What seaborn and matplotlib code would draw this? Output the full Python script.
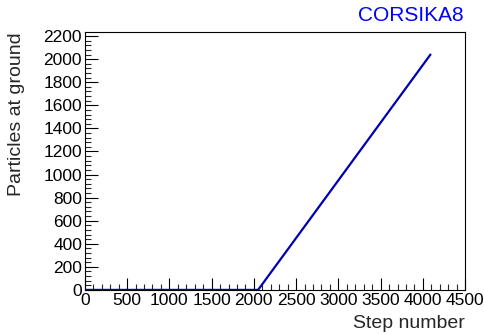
import matplotlib
matplotlib.use("Agg")
import matplotlib.pyplot as plt
import seaborn as sns
import pandas as pd
from matplotlib.ticker import MultipleLocator

steps = [0, 2050, 4090]
particles = [0, 0, 2040]
title = "CORSIKA8"

sns.set_theme(style="ticks")
plt.rcParams['font.family'] = ['Liberation Sans', 'DejaVu Sans']

df = pd.DataFrame({"step": steps, "particles": particles})

fig = plt.figure(figsize=(4.85, 3.34), dpi=100)
ax = fig.add_axes([0.175, 0.132, 0.784, 0.772])
sns.lineplot(data=df, x="step", y="particles", ax=ax, color="#0000b0", linewidth=1.6)

ax.set_xlim(0, 4500)
ax.set_ylim(0, 2235)
ax.xaxis.set_major_locator(MultipleLocator(500))
ax.xaxis.set_minor_locator(MultipleLocator(100))
ax.yaxis.set_major_locator(MultipleLocator(200))
ax.yaxis.set_minor_locator(MultipleLocator(40))
ax.tick_params(axis="both", which="major", direction="in", length=9, width=0.8,
               labelsize=12.5, colors="black", pad=2)
ax.tick_params(axis="both", which="minor", direction="in", length=4.5, width=0.8)
for s in ax.spines.values():
    s.set_linewidth(0.8)
    s.set_color("black")

ax.set_xlabel("Step number", fontsize=14, loc="right", labelpad=5)
ax.set_ylabel("Particles at ground", fontsize=14, loc="top", labelpad=13)
fig.text(0.955, 0.925, title, color="#0000ff", fontsize=15, ha="right", va="bottom")

fig.savefig("out.png", dpi=100)
